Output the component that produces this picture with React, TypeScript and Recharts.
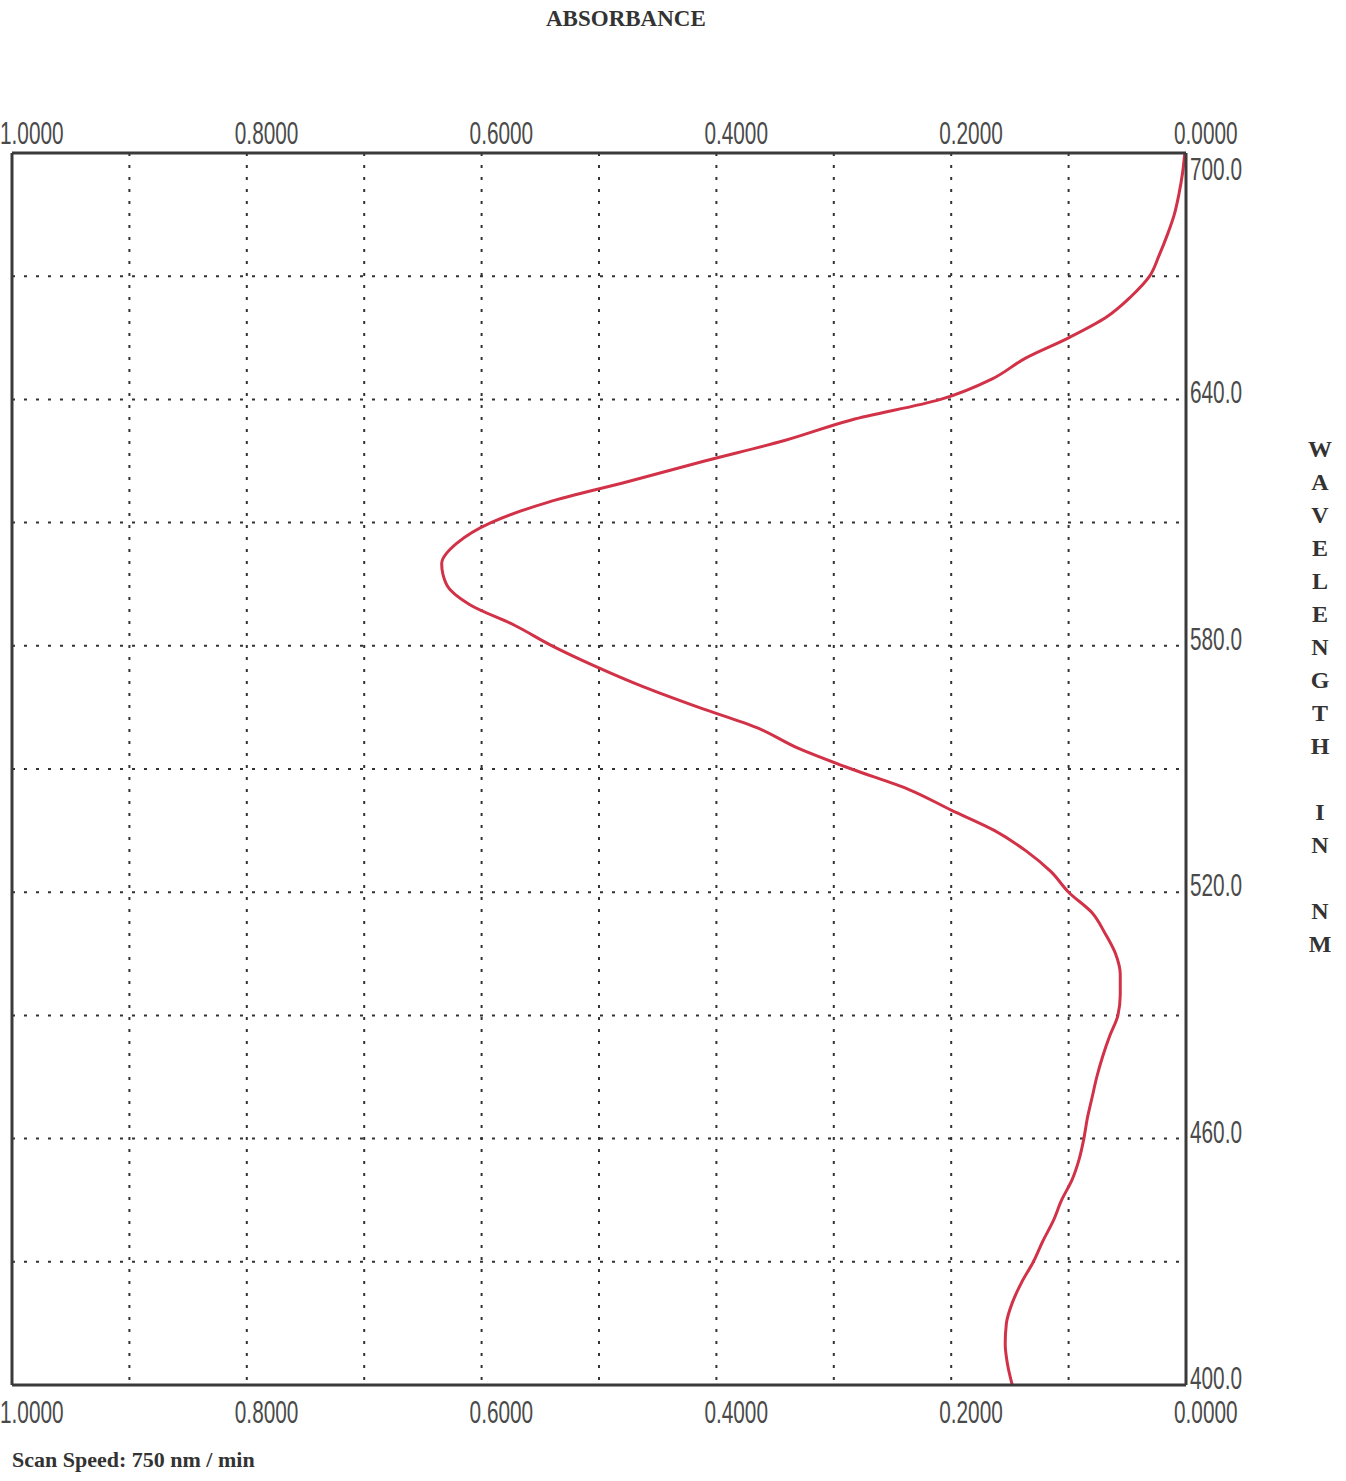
import React from 'react';
import { LineChart, Line, XAxis, YAxis, CartesianGrid } from 'recharts';

// scan, 5 nm steps
const wavelengths = [
  400, 405, 410, 415, 420, 425, 430, 435, 440, 445, 450, 455, 460, 465, 470, 475, 480, 485, 490, 495,
  500, 505, 510, 515, 520, 525, 530, 535, 540, 545, 550, 555, 560, 565, 570, 575, 580, 585, 590, 595,
  600, 605, 610, 615, 620, 625, 630, 635, 640, 645, 650, 655, 660, 665, 670, 675, 680, 685, 690, 695, 700,
];
const absorbance = [
  0.148, 0.152, 0.154, 0.153, 0.148, 0.14, 0.13, 0.122, 0.113, 0.106, 0.097, 0.091, 0.087, 0.084, 0.08, 0.076, 0.071, 0.065, 0.058, 0.056,
  0.056, 0.06, 0.069, 0.08, 0.1, 0.115, 0.136, 0.163, 0.2, 0.236, 0.285, 0.33, 0.365, 0.415, 0.462, 0.503, 0.54, 0.572, 0.61, 0.63,
  0.634, 0.621, 0.592, 0.543, 0.475, 0.41, 0.342, 0.285, 0.209, 0.165, 0.137, 0.1, 0.068, 0.047, 0.031, 0.023, 0.016, 0.01, 0.006, 0.003, 0.001,
];

const absTicks = [0, 0.2, 0.4, 0.6, 0.8, 1.0];
const absGrid = [0, 0.1, 0.2, 0.3, 0.4, 0.5, 0.6, 0.7, 0.8, 0.9, 1.0];
const wlTicks = [400, 460, 520, 580, 640, 700];
const wlGrid = [400, 430, 460, 490, 520, 550, 580, 610, 640, 670, 700];

const data = wavelengths.map((wl, i) => ({ wl, abs: absorbance[i] }));

const tickFont = { fontFamily: '"Liberation Sans", Arial, sans-serif', fontSize: 32, fill: '#4a4a4a' };
const frame = '#3a3a3a';

const TopTick = (props: any) => {
  const { x, y, payload } = props;
  return (
    <text transform={`translate(${x - 12} ${y}) scale(0.65 1)`} {...tickFont}>
      {Number(payload.value).toFixed(4)}
    </text>
  );
};

const BottomTick = (props: any) => {
  const { x, y, payload } = props;
  return (
    <text transform={`translate(${x - 12} ${y + 23}) scale(0.65 1)`} {...tickFont}>
      {Number(payload.value).toFixed(4)}
    </text>
  );
};

const RightTick = (props: any) => {
  const { x, y, payload } = props;
  // top label sits just under the corner, the rest a little above their line
  const dy = payload.value === 700 ? 27 : 4;
  return (
    <text transform={`translate(${x} ${y + dy}) scale(0.65 1)`} {...tickFont}>
      {Number(payload.value).toFixed(1)}
    </text>
  );
};

const sideLabel = ['W', 'A', 'V', 'E', 'L', 'E', 'N', 'G', 'T', 'H', '', 'I', 'N', '', 'N', 'M'];

export default function App() {
  return (
    <div style={{ position: 'absolute', left: 0, top: 0, width: 1346, height: 1481, background: '#fff' }}>
      <LineChart
        width={1346}
        height={1481}
        data={data}
        layout="vertical"
        margin={{ top: 113, right: 100, bottom: 56, left: 11 }}
      >
        <CartesianGrid
          xAxisId="bottom"
          yAxisId="wl"
          stroke="#333"
          strokeWidth={2}
          strokeDasharray="3 9"
          verticalValues={absGrid}
          horizontalValues={wlGrid}
        />
        <XAxis
          xAxisId="top"
          orientation="top"
          type="number"
          dataKey="abs"
          domain={[0, 1]}
          reversed
          ticks={absTicks}
          height={40}
          tickSize={0}
          tickMargin={9}
          tickLine={false}
          axisLine={{ stroke: frame, strokeWidth: 3 }}
          tick={<TopTick />}
          allowDataOverflow
        />
        <XAxis
          xAxisId="bottom"
          orientation="bottom"
          type="number"
          dataKey="abs"
          domain={[0, 1]}
          reversed
          ticks={absTicks}
          height={40}
          tickSize={0}
          tickMargin={15}
          tickLine={false}
          axisLine={{ stroke: frame, strokeWidth: 3 }}
          tick={<BottomTick />}
          allowDataOverflow
        />
        <YAxis
          yAxisId="wl"
          orientation="right"
          type="number"
          dataKey="wl"
          domain={[400, 700]}
          reversed
          ticks={wlTicks}
          width={60}
          tickSize={0}
          tickMargin={4}
          tickLine={false}
          axisLine={{ stroke: frame, strokeWidth: 3 }}
          tick={<RightTick />}
        />
        <YAxis
          yAxisId="left"
          orientation="left"
          type="number"
          domain={[400, 700]}
          reversed
          width={1}
          tick={false}
          tickLine={false}
          axisLine={{ stroke: frame, strokeWidth: 3 }}
        />
        <Line
          xAxisId="bottom"
          yAxisId="wl"
          dataKey="abs"
          type="monotone"
          stroke="#d23248"
          strokeWidth={3}
          dot={false}
          isAnimationActive={false}
        />
      </LineChart>

      <div
        style={{
          position: 'absolute', left: 546, top: 6,
          fontFamily: '"Liberation Serif", serif', fontWeight: 'bold', fontSize: 23, color: '#333',
        }}
      >
        ABSORBANCE
      </div>

      <div
        style={{
          position: 'absolute', left: 1300, top: 433, width: 40,
          fontFamily: '"Liberation Serif", serif', fontWeight: 'bold', fontSize: 24, color: '#333',
          lineHeight: '33px', textAlign: 'center',
        }}
      >
        {sideLabel.map((c, i) => (
          <div key={i} style={{ height: 33 }}>{c}</div>
        ))}
      </div>

      <div
        style={{
          position: 'absolute', left: 12, top: 1447,
          fontFamily: '"Liberation Serif", serif', fontWeight: 'bold', fontSize: 22, color: '#333',
        }}
      >
        Scan Speed: 750 nm / min
      </div>
    </div>
  );
}
